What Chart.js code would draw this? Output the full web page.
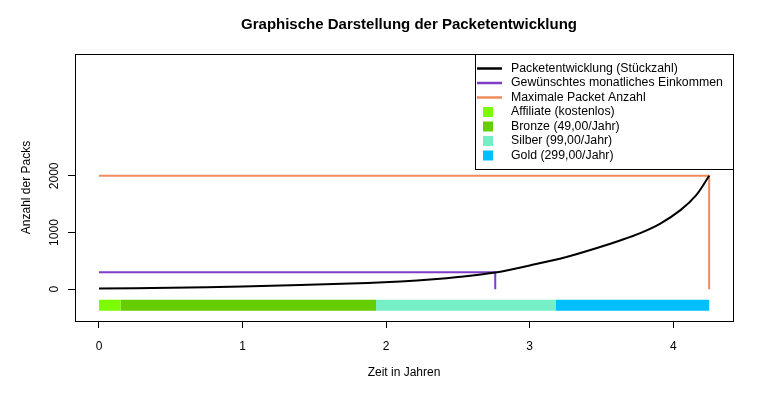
<!DOCTYPE html>
<html><head><meta charset="utf-8">
<script src="https://cdn.jsdelivr.net/npm/chart.js@4"></script>
<style>html,body{margin:0;padding:0;background:#fff}#wrap{width:772px;height:399px}</style>
</head><body><div id="wrap"><canvas id="c" width="772" height="399"></canvas></div>
<script>
const titleText = 'Graphische Darstellung der Packetentwicklung';
const xTitle = 'Zeit in Jahren';
const yTitle = 'Anzahl der Packs';
const xTicks = [0, 1, 2, 3, 4];
const yTicks = [0, 1000, 2000];

const curveYears = [0, 0.5, 1.0, 1.4, 1.87, 2.1, 2.33, 2.5, 2.76, 3.0, 3.25, 3.49, 3.63, 3.77, 3.91, 4.05, 4.16, 4.25];
const curvePacks = [15, 25, 48, 76, 112, 138, 176, 215, 295, 420, 565, 745, 860, 990, 1158, 1395, 1659, 2000];

const incomeYears = [0, 2.76, 2.76];
const incomePacks = [300, 300, 0];

const maxYears = [0, 4.25, 4.25];
const maxPacks = [2000, 2000, 0];

const levelNames = ['Affiliate (kostenlos)', 'Bronze (49,00/Jahr)', 'Silber (99,00/Jahr)', 'Gold (299,00/Jahr)'];
const levelStart = [0, 0.15, 1.93, 3.18];
const levelEnd = [0.15, 1.93, 3.18, 4.25];
const levelBand = -282;

const lineNames = ['Packetentwicklung (Stückzahl)', 'Gewünschtes monatliches Einkommen', 'Maximale Packet Anzahl'];
const lineColors = ['#000000', '#7E3DC4', '#EE8C5E'];
const levelColors = ['#7CFC00', '#66CD00', '#76EEC6', '#00BFFF'];

const FONT = '"Liberation Sans", Arial, sans-serif';

function pts(xs, ys) { return xs.map((x, i) => ({x: x, y: ys[i]})); }

const datasets = [];
levelNames.forEach((n, i) => {
  datasets.push({
    label: n,
    data: [{x: levelStart[i], y: levelBand}, {x: levelEnd[i], y: levelBand}],
    borderColor: levelColors[i], backgroundColor: levelColors[i],
    borderWidth: 11, borderCapStyle: 'butt', pointRadius: 0, order: 5
  });
});
datasets.push({label: lineNames[2], data: pts(maxYears, maxPacks), borderColor: lineColors[2], borderWidth: 2, pointRadius: 0, order: 3});
datasets.push({label: lineNames[1], data: pts(incomeYears, incomePacks), borderColor: lineColors[1], borderWidth: 2, pointRadius: 0, order: 2});
datasets.push({label: lineNames[0], data: pts(curveYears, curvePacks), borderColor: lineColors[0], borderWidth: 2, pointRadius: 0, tension: 0.35, order: 1});

const framePlugin = {
  id: 'frame',
  afterDraw(chart) {
    const ctx = chart.ctx, a = chart.chartArea;
    ctx.save();
    ctx.strokeStyle = '#000'; ctx.lineWidth = 1;
    ctx.strokeRect(Math.round(a.left) + 0.5, Math.round(a.top) + 0.5, Math.round(a.right - a.left), Math.round(a.bottom - a.top));
    ctx.fillStyle = '#000';
    ctx.textAlign = 'center'; ctx.textBaseline = 'middle';
    ctx.font = 'bold 15px ' + FONT;
    ctx.fillText(titleText, (a.left + a.right) / 2 + 5, 25);
    ctx.font = '12px ' + FONT;
    ctx.fillText(xTitle, (a.left + a.right) / 2, 373);
    ctx.save();
    ctx.translate(27, (a.top + a.bottom) / 2);
    ctx.rotate(-Math.PI / 2);
    ctx.fillText(yTitle, 0, 0);
    ctx.restore();
    // legend
    const lx = 475, ly = a.top, lw = a.right - lx, lh = 115;
    ctx.fillStyle = '#fff';
    ctx.fillRect(lx, ly, lw, lh);
    ctx.strokeStyle = '#000'; ctx.lineWidth = 1;
    ctx.strokeRect(lx + 0.5, ly + 0.5, lw, lh);
    const rowH = 14.5, y0 = ly + 14.5;
    ctx.font = '12.3px ' + FONT;
    ctx.textAlign = 'left'; ctx.textBaseline = 'middle';
    lineNames.forEach((n, i) => {
      const y = y0 + i * rowH;
      ctx.strokeStyle = lineColors[i]; ctx.lineWidth = 2.5;
      ctx.beginPath(); ctx.moveTo(477, y); ctx.lineTo(502, y); ctx.stroke();
      ctx.fillStyle = '#000'; ctx.fillText(n, 511, y);
    });
    levelNames.forEach((n, i) => {
      const y = y0 + (i + 3) * rowH;
      ctx.fillStyle = levelColors[i];
      ctx.fillRect(483, y - 5, 10, 10);
      ctx.fillStyle = '#000'; ctx.fillText(n, 511, y);
    });
    ctx.restore();
  }
};

new Chart(document.getElementById('c'), {
  type: 'line',
  data: {datasets: datasets},
  plugins: [framePlugin],
  options: {
    responsive: false, animation: false, devicePixelRatio: 1,
    layout: {padding: {left: 0, right: 39, top: 54, bottom: 0}},
    plugins: {legend: {display: false}, tooltip: {enabled: false}, title: {display: false}},
    scales: {
      x: {
        type: 'linear', min: -0.167, max: 4.416,
        afterFit(s) { s.height = 78; },
        afterBuildTicks(s) { s.ticks = xTicks.map(v => ({value: v})); },
        grid: {drawOnChartArea: false, drawTicks: true, tickLength: 7, color: '#000'},
        border: {display: true, color: '#000'},
        ticks: {color: '#000', font: {family: FONT, size: 12}, padding: 11, maxRotation: 0, callback: v => String(v)}
      },
      y: {
        type: 'linear', min: -560, max: 4148,
        afterFit(s) { s.width = 75; },
        afterBuildTicks(s) { s.ticks = yTicks.map(v => ({value: v})); },
        grid: {drawOnChartArea: false, drawTicks: true, tickLength: 7, color: '#000'},
        border: {display: true, color: '#000'},
        ticks: {color: '#000', font: {family: FONT, size: 12}, padding: 0, minRotation: 90, maxRotation: 90, crossAlign: 'center', callback: v => String(v)}
      }
    }
  }
});
</script>
</body></html>
